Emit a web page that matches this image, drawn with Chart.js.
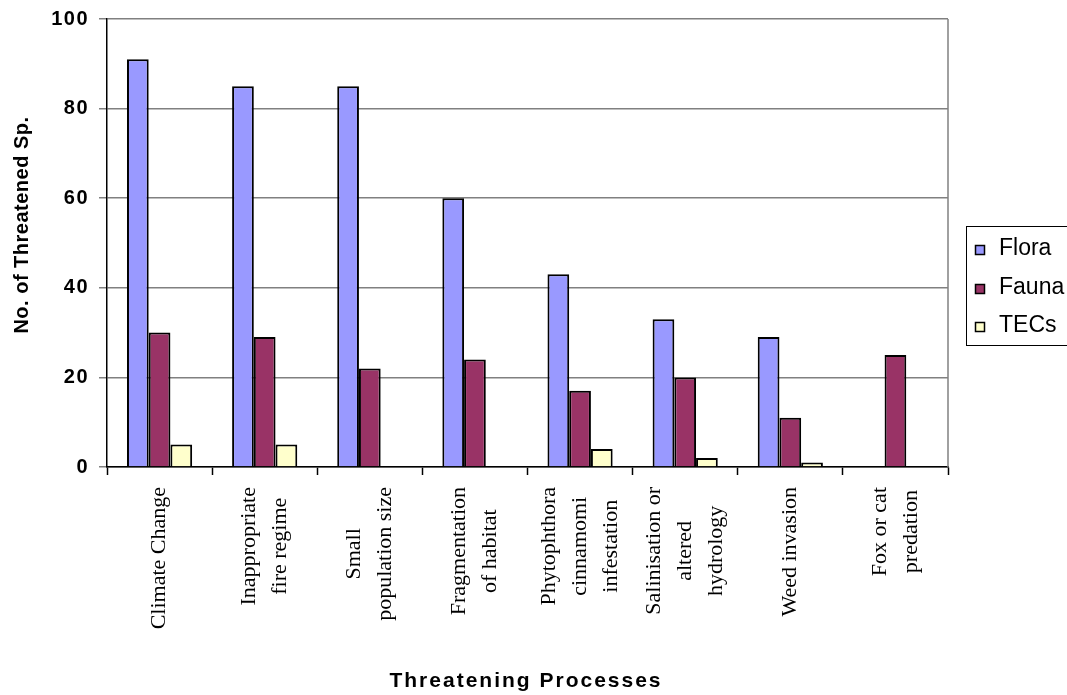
<!DOCTYPE html>
<html>
<head>
<meta charset="utf-8">
<script src="https://cdn.jsdelivr.net/npm/chart.js@4/dist/chart.umd.min.js"></script>
<style>
  html, body { margin: 0; padding: 0; background: #fff; }
  #wrap { width: 1067px; height: 695px; position: relative; }
</style>
</head>
<body>
<div id="wrap"><canvas id="c"></canvas></div>
<script>
// Threatening processes and the number of threatened species / communities affected
const categories = [
  ['Climate Change'],
  ['Inappropriate', 'fire regime'],
  ['Small', 'population size'],
  ['Fragmentation', 'of habitat'],
  ['Phytophthora', 'cinnamomi', 'infestation'],
  ['Salinisation or', 'altered', 'hydrology'],
  ['Weed invasion'],
  ['Fox or cat', 'predation']
];
const flora = [91, 85, 85, 60, 43, 33, 29, 0];
const fauna = [30, 29, 22, 24, 17, 20, 11, 25];
const tecs  = [5, 5, 0, 0, 4, 2, 1, 0];
const yTicks = [0, 20, 40, 60, 80, 100];
const seriesNames  = ['Flora', 'Fauna', 'TECs'];
const seriesColors = ['#9999FF', '#993366', '#FFFFCC'];
const yTitle = 'No. of Threatened Sp.';
const xTitle = 'Threatening Processes';

const SANS = '"Liberation Sans", Arial, sans-serif';
const SERIF = '"Liberation Serif", "Times New Roman", serif';

// Extra text drawing: rotated category labels, axis titles, plot border, legend
const decorations = {
  id: 'decorations',
  beforeDraw(chart) {
    chart.ctx.letterSpacing = '1.5px';
  },
  afterDraw(chart) {
    const ctx = chart.ctx;
    const area = chart.chartArea;
    const xs = chart.scales.x;
    ctx.save();

    // right edge of the plot area
    ctx.strokeStyle = '#808080';
    ctx.lineWidth = 1.5;
    ctx.beginPath();
    ctx.moveTo(area.right, area.top);
    ctx.lineTo(area.right, area.bottom);
    ctx.stroke();

    // category labels, rotated, lines centred on each other
    ctx.letterSpacing = '0px';
    ctx.fillStyle = '#000';
    ctx.font = '22px ' + SERIF;
    ctx.textAlign = 'center';
    ctx.textBaseline = 'middle';
    const labelTop = area.bottom + 20;
    categories.forEach((lines, i) => {
      const cx = xs.getPixelForValue(i);
      const w = Math.max(...lines.map(l => ctx.measureText(l).width));
      const cy = labelTop + w / 2;
      lines.forEach((line, j) => {
        const x = cx + (j - (lines.length - 1) / 2) * 31;
        ctx.save();
        ctx.translate(x, cy);
        ctx.rotate(-Math.PI / 2);
        ctx.fillText(line, 0, 0);
        ctx.restore();
      });
    });

    // axis titles
    ctx.font = 'bold 20px ' + SANS;
    ctx.letterSpacing = '0.5px';
    ctx.save();
    ctx.translate(22, 225);
    ctx.rotate(-Math.PI / 2);
    ctx.fillText(yTitle, 0, 0);
    ctx.restore();

    ctx.font = 'bold 21px ' + SANS;
    ctx.letterSpacing = '2px';
    ctx.textBaseline = 'alphabetic';
    ctx.fillText(xTitle, 526, 687);

    // legend
    const lx = 966, ly = 226;
    ctx.letterSpacing = '0px';
    ctx.lineWidth = 1;
    ctx.strokeStyle = '#000';
    ctx.fillStyle = '#fff';
    ctx.fillRect(lx, ly, 120, 119);
    ctx.strokeRect(lx + 0.5, ly + 0.5, 120, 119);
    ctx.font = '23px ' + SANS;
    ctx.textAlign = 'left';
    chart.data.datasets.forEach((ds, k) => {
      const base = Math.round(255 + k * 38.5);
      ctx.fillStyle = ds.backgroundColor;
      ctx.fillRect(975, base - 10, 10, 10);
      ctx.lineWidth = 1.5;
      ctx.strokeRect(975.5, base - 9.5, 9, 9);
      ctx.fillStyle = '#000';
      ctx.fillText(ds.label, 999, base);
    });

    ctx.restore();
  }
};

const datasets = [flora, fauna, tecs].map((values, k) => ({
  label: seriesNames[k],
  data: values,
  backgroundColor: seriesColors[k],
  borderColor: '#000',
  borderWidth: 2,
  borderSkipped: 'start',
  categoryPercentage: 0.62,
  barPercentage: 1.0
}));

new Chart(document.getElementById('c'), {
  type: 'bar',
  data: { labels: categories.map(l => l.join(' ')), datasets },
  options: {
    responsive: true,
    maintainAspectRatio: false,
    animation: false,
    layout: { padding: { left: 0, top: 19, right: 119, bottom: 0 } },
    plugins: {
      legend: { display: false },
      tooltip: { enabled: false }
    },
    scales: {
      x: {
        grid: {
          offset: true,
          drawOnChartArea: false,
          drawTicks: true,
          tickLength: 8,
          tickColor: '#000',
          tickWidth: 1.5
        },
        border: { display: true, color: '#000', width: 1.5 },
        ticks: { display: false },
        afterFit(scale) { scale.height = 228; }
      },
      y: {
        min: 0,
        max: 100,
        afterBuildTicks(scale) { scale.ticks = yTicks.map(v => ({ value: v })); },
        grid: {
          color: '#808080',
          lineWidth: 1.5,
          drawTicks: true,
          tickLength: 8,
          tickColor: '#808080'
        },
        border: { display: true, color: '#000', width: 1.5 },
        ticks: {
          color: '#000',
          padding: 10,
          font: { family: SANS, size: 20, weight: 'bold' }
        },
        afterFit(scale) {
          scale.width = 107;
          scale.paddingTop = 0;
          scale.paddingBottom = 0;
        }
      }
    }
  },
  plugins: [decorations]
});
</script>
</body>
</html>
